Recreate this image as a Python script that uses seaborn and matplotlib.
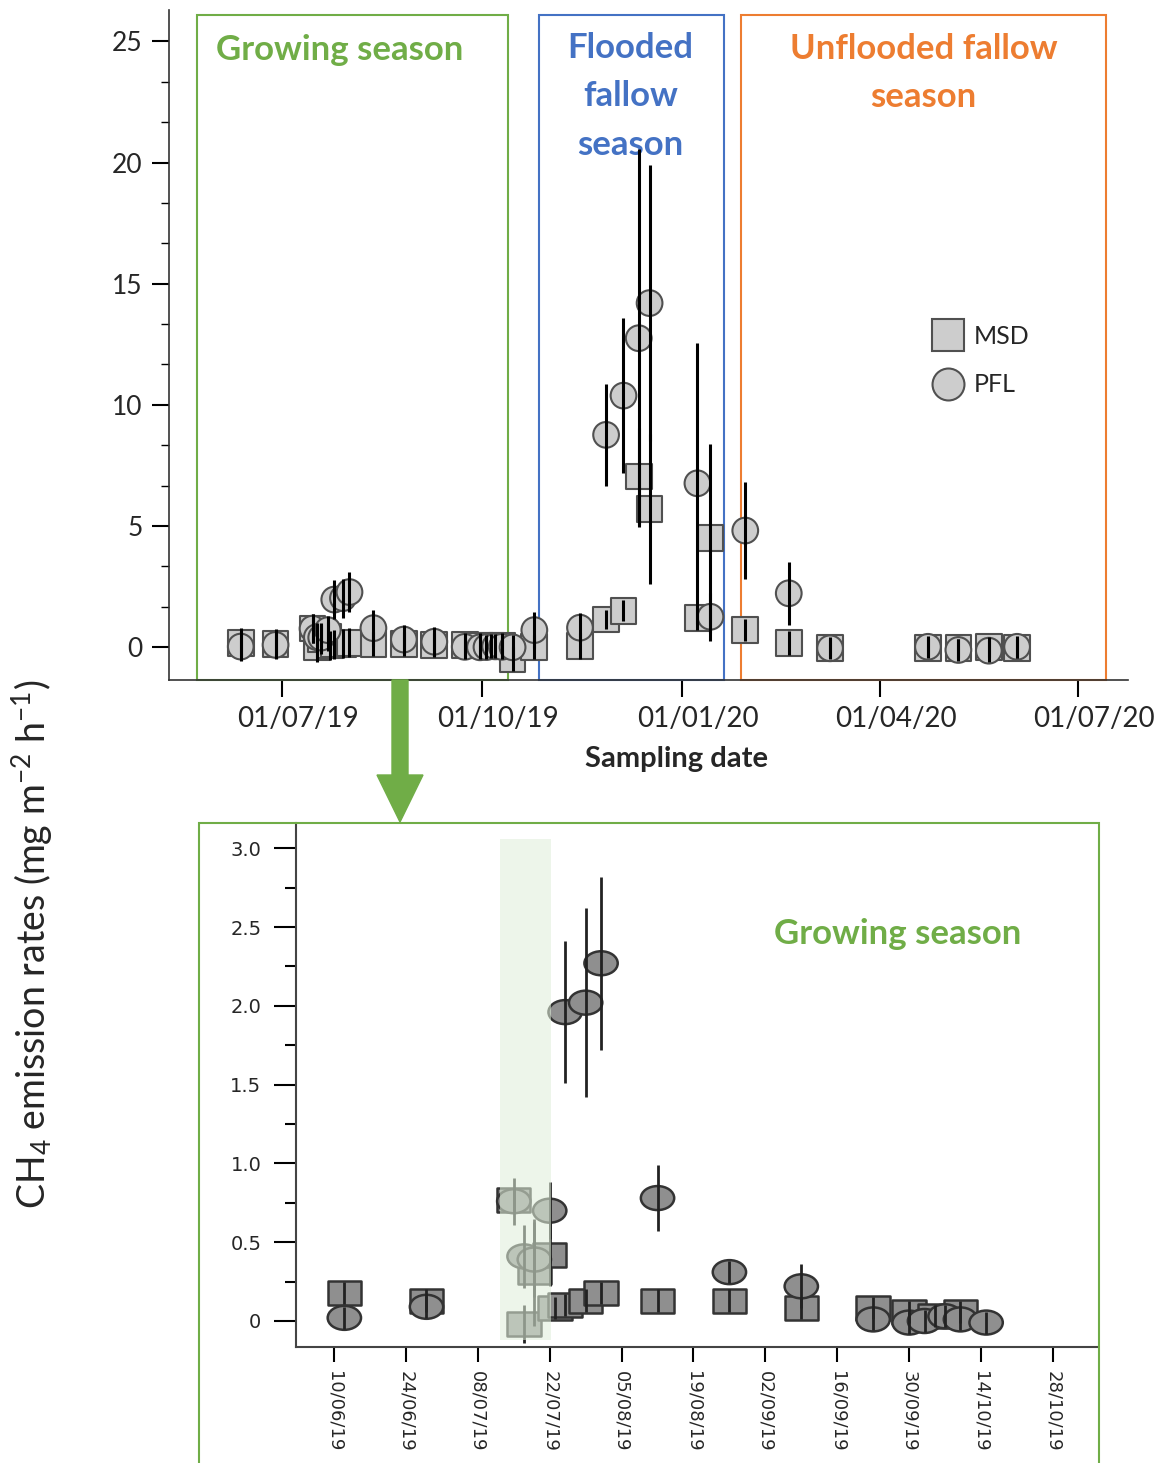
import numpy as np
import pandas as pd
import matplotlib
matplotlib.use('Agg')
import matplotlib.pyplot as plt
import matplotlib.dates as mdates
from matplotlib.patches import Rectangle, FancyArrow
from matplotlib.path import Path
from matplotlib.transforms import Affine2D, ScaledTranslation
from matplotlib.lines import Line2D
from matplotlib.ticker import MultipleLocator
import seaborn as sns

sns.set_style('ticks')
plt.rcParams['font.family'] = ['Lato', 'DejaVu Sans']
plt.rcParams['mathtext.fontset'] = 'custom'
plt.rcParams['mathtext.rm'] = 'Lato'
plt.rcParams['mathtext.it'] = 'Lato:italic'
plt.rcParams['mathtext.bf'] = 'Lato:bold'

GREEN, BLUE, ORANGE = '#70AD47', '#4472C4', '#ED7D31'

# ---- data ----
# MSD, whole campaign (the first 18 dates belong to the growing season)
msd_dates = ['2019-06-12', '2019-06-28', '2019-07-15', '2019-07-17', '2019-07-19', '2019-07-22',
             '2019-07-23', '2019-07-25', '2019-07-29', '2019-08-01', '2019-08-12', '2019-08-26',
             '2019-09-09', '2019-09-23', '2019-09-30', '2019-10-05', '2019-10-10', '2019-10-15',
             '2019-10-25', '2019-11-15', '2019-11-27', '2019-12-05', '2019-12-12', '2019-12-17',
             '2020-01-08', '2020-01-14', '2020-01-30', '2020-02-19', '2020-03-09', '2020-04-23',
             '2020-05-07', '2020-05-21', '2020-06-03']
msd_vals = [0.18, 0.13, 0.77, -0.02, 0.31, 0.42, 0.08, 0.10, 0.13, 0.18, 0.13, 0.13,
            0.08, 0.08, 0.06, 0.03, 0.06, -0.50, 0.00, 0.05, 1.14, 1.50, 7.04, 5.69,
            1.19, 4.49, 0.70, 0.18, -0.05, -0.03, -0.05, 0.01, -0.05]
msd_err = [0.6, 0.6, 0.6, 0.6, 0.6, 0.6, 0.6, 0.6, 0.6, 0.6, 0.5, 0.5,
           0.5, 0.5, 0.5, 0.5, 0.5, 0.5, 0.5, 0.55, 0.4, 0.43, 2.0, 3.1,
           0.5, 3.9, 0.45, 0.5, 0.4, 0.4, 0.4, 0.4, 0.4]
msd_err_gs = [0.07, 0.07, 0.07, 0.12, 0.34, 0.20, 0.07, 0.07, 0.07, 0.07, 0.07, 0.07,
              0.07, 0.07, 0.07, 0.07, 0.07, 0.07]

# PFL
pfl_dates = ['2019-06-12', '2019-06-28', '2019-07-15', '2019-07-17', '2019-07-19', '2019-07-22',
             '2019-07-25', '2019-07-29', '2019-08-01', '2019-08-12', '2019-08-26', '2019-09-09',
             '2019-09-23', '2019-09-30', '2019-10-03', '2019-10-07', '2019-10-10', '2019-10-15',
             '2019-10-25', '2019-11-15', '2019-11-27', '2019-12-05', '2019-12-12', '2019-12-17',
             '2020-01-08', '2020-01-14', '2020-01-30', '2020-02-19', '2020-03-09', '2020-04-23',
             '2020-05-07', '2020-05-21', '2020-06-03']
pfl_vals = [0.02, 0.09, 0.76, 0.41, 0.39, 0.70, 1.96, 2.02, 2.27, 0.78, 0.31, 0.22,
            0.01, -0.01, 0.00, 0.03, 0.01, -0.01, 0.70, 0.80, 8.76, 10.38, 12.75, 14.20,
            6.76, 1.25, 4.81, 2.22, -0.05, 0.01, -0.12, -0.15, 0.01]
pfl_err = [0.6, 0.6, 0.6, 0.6, 0.6, 0.6, 0.8, 0.8, 0.82, 0.75, 0.6, 0.6,
           0.5, 0.5, 0.5, 0.5, 0.5, 0.5, 0.75, 0.6, 2.1, 3.2, 7.8, 5.7,
           5.8, 1.0, 2.0, 1.3, 0.45, 0.45, 0.45, 0.45, 0.45]
pfl_err_gs = [0.07, 0.07, 0.15, 0.20, 0.24, 0.18, 0.45, 0.60, 0.55, 0.21, 0.07, 0.14,
              0.07, 0.07, 0.07, 0.07, 0.07, 0.07]

season_names = ['Growing season', 'Flooded\nfallow\nseason', 'Unflooded fallow\nseason']
season_start = ['2019-05-23', '2019-10-27', '2020-01-28']
season_end = ['2019-10-13', '2020-01-20', '2020-07-14']
season_colors = [GREEN, BLUE, ORANGE]

highlight = ['2019-07-12 06:00', '2019-07-22 06:00']

top_ticks = ['2019-07-01', '2019-10-01', '2020-01-01', '2020-04-01', '2020-07-01']
zoom_ticks = pd.date_range('2019-06-10', '2019-10-28', freq='14D')

msd = pd.DataFrame({'date': pd.to_datetime(msd_dates), 'flux': msd_vals, 'err': msd_err, 'type': 'MSD'})
pfl = pd.DataFrame({'date': pd.to_datetime(pfl_dates), 'flux': pfl_vals, 'err': pfl_err, 'type': 'PFL'})
df = pd.concat([msd, pfl], ignore_index=True)

msd_gs = msd.iloc[:len(msd_err_gs)].copy()
msd_gs['err'] = msd_err_gs
pfl_gs = pfl.iloc[:len(pfl_err_gs)].copy()
pfl_gs['err'] = pfl_err_gs
gs = pd.concat([msd_gs, pfl_gs], ignore_index=True)

# ---- figure ----
W, H = 1165, 1463
fig = plt.figure(figsize=(W / 100, H / 100), dpi=100)
ax1 = fig.add_axes([169 / W, 1 - 680 / H, (1128 - 169) / W, (680 - 10) / H])
ax2 = fig.add_axes([296 / W, 1 - 1347 / H, (1098 - 296) / W, (1347 - 823) / H])

# top panel
sns.scatterplot(data=df, x='date', y='flux', style='type', markers={'MSD': 's', 'PFL': 'o'},
                s=18.5 ** 2, color='#CDCDCD', edgecolor='#505050', linewidth=1.5,
                legend=False, ax=ax1, zorder=3)
ax1.errorbar(df['date'], df['flux'], yerr=df['err'], fmt='none', ecolor='black',
             elinewidth=2.2, capsize=0, zorder=4)

ax1.set_xlim(pd.Timestamp('2019-05-10'), pd.Timestamp('2020-07-24'))
ax1.set_ylim(-1.36, 26.3)
ax1.set_yticks([0, 5, 10, 15, 20, 25])
ax1.yaxis.set_minor_locator(MultipleLocator(5 / 3))
ax1.set_xticks(pd.to_datetime(top_ticks))
ax1.xaxis.set_major_formatter(mdates.DateFormatter('%d/%m/%y'))
ax1.tick_params(axis='y', which='major', length=12, width=1.5, labelsize=19, pad=7, color='black')
ax1.tick_params(axis='x', which='major', length=12, width=1.5, labelsize=20, pad=7, color='black')
ax1.tick_params(axis='y', which='minor', length=6, width=1, color='black')
for lab in ax1.get_xticklabels():
    lab.set_transform(lab.get_transform() + ScaledTranslation(0.16, 0, fig.dpi_scale_trans))
for side in ['top', 'right']:
    ax1.spines[side].set_visible(False)
for side in ['left', 'bottom']:
    ax1.spines[side].set_linewidth(1.2)
    ax1.spines[side].set_color('#333333')
ax1.set_ylabel('')
ax1.set_xlabel('Sampling date', fontsize=21, fontweight='bold')
ax1.xaxis.label.set_va('center')
ax1.xaxis.set_label_coords(0.5287, -0.118)

label_pos = [(0.178, 0.940), (0.481, 0.871), (0.787, 0.9065)]
for name, start, end, col, (tx, ty) in zip(season_names, season_start, season_end, season_colors, label_pos):
    x0 = mdates.date2num(pd.Timestamp(start))
    x1 = mdates.date2num(pd.Timestamp(end))
    ax1.add_patch(Rectangle((x0, 0), x1 - x0, 0.993, transform=ax1.get_xaxis_transform(),
                            fill=False, edgecolor=col, lw=1.5, clip_on=False, zorder=2))
    ax1.text(tx, ty, name, transform=ax1.transAxes, ha='center', va='center', color=col,
             fontsize=25, fontweight='bold', linespacing=1.62)

handles = [Line2D([], [], marker='s', ls='none', ms=23, mfc='#CDCDCD', mec='#505050', mew=1.5, label='MSD'),
           Line2D([], [], marker='o', ls='none', ms=23, mfc='#CDCDCD', mec='#505050', mew=1.5, label='PFL')]
ax1.legend(handles=handles, loc='upper left', bbox_to_anchor=(930 / W, 1 - 325 / H),
           bbox_transform=fig.transFigure, frameon=False, fontsize=18, handlelength=1.4,
           handletextpad=0.35, labelspacing=1.02, borderpad=0, borderaxespad=0)

# lower panel: growing season zoom
ellipse = Path.unit_circle().transformed(Affine2D().scale(1, 0.72))
rect = Path([(-1, -0.72), (1, -0.72), (1, 0.72), (-1, 0.72), (-1, -0.72)],
            [Path.MOVETO, Path.LINETO, Path.LINETO, Path.LINETO, Path.CLOSEPOLY])
sns.scatterplot(data=gs, x='date', y='flux', style='type', markers={'MSD': rect, 'PFL': ellipse},
                s=24 ** 2, color='#8F8F8F', edgecolor='#333333', linewidth=1.8,
                legend=False, ax=ax2, zorder=3)
ax2.errorbar(gs['date'], gs['flux'], yerr=gs['err'], fmt='none', ecolor='#222222',
             elinewidth=2, capsize=0, zorder=4)
h0 = mdates.date2num(pd.Timestamp(highlight[0]))
h1 = mdates.date2num(pd.Timestamp(highlight[1]))
ax2.add_patch(Rectangle((h0, -0.12), h1 - h0, 3.18, facecolor=(224 / 255, 239 / 255, 218 / 255),
                        alpha=0.57, edgecolor='none', zorder=5))

ax2.set_xlim(pd.Timestamp('2019-06-02 14:00'), pd.Timestamp('2019-11-05 19:00'))
ax2.set_ylim(-0.165, 3.16)
ax2.set_yticks([0, 0.5, 1.0, 1.5, 2.0, 2.5, 3.0])
ax2.set_yticklabels(['0', '0.5', '1.0', '1.5', '2.0', '2.5', '3.0'], family='DejaVu Sans')
ax2.yaxis.set_minor_locator(MultipleLocator(0.25))
ax2.set_xticks(zoom_ticks)
ax2.set_xticklabels([d.strftime('%d/%m/%y') for d in zoom_ticks], rotation=270,
                    family='DejaVu Sans')
ax2.tick_params(axis='y', which='major', length=16, width=1.5, labelsize=14, pad=9, color='black')
ax2.tick_params(axis='y', which='minor', length=8, width=1.5, color='black')
ax2.tick_params(axis='x', which='major', length=11, width=1.5, labelsize=13, pad=6, color='black')
for side in ['top', 'right']:
    ax2.spines[side].set_visible(False)
for side in ['left', 'bottom']:
    ax2.spines[side].set_linewidth(1.5)
    ax2.spines[side].set_color('#444444')
ax2.set_xlabel('')
ax2.set_ylabel('')
ax2.text(0.7506, 0.788, 'Growing season', transform=ax2.transAxes, ha='center', va='center',
         color=GREEN, fontsize=25, fontweight='bold')

# frame around zoom panel and arrow
fig.patches.append(Rectangle((199 / W, -0.05), (1099 - 199) / W, 0.05 + 1 - 823 / H,
                             transform=fig.transFigure, fill=False, edgecolor=GREEN, lw=1.5))
fig.patches.append(FancyArrow(4.0, (H - 680) / 100, 0, -1.42, width=0.16, head_width=0.46,
                              head_length=0.47, length_includes_head=True, color=GREEN,
                              transform=fig.dpi_scale_trans))

fig.text(32 / W, 1 - 944 / H, 'CH$_4$ emission rates (mg m$^{-2}$ h$^{-1}$)', rotation=90,
         ha='center', va='center', fontsize=27)

fig.savefig('out.png', dpi=100)
